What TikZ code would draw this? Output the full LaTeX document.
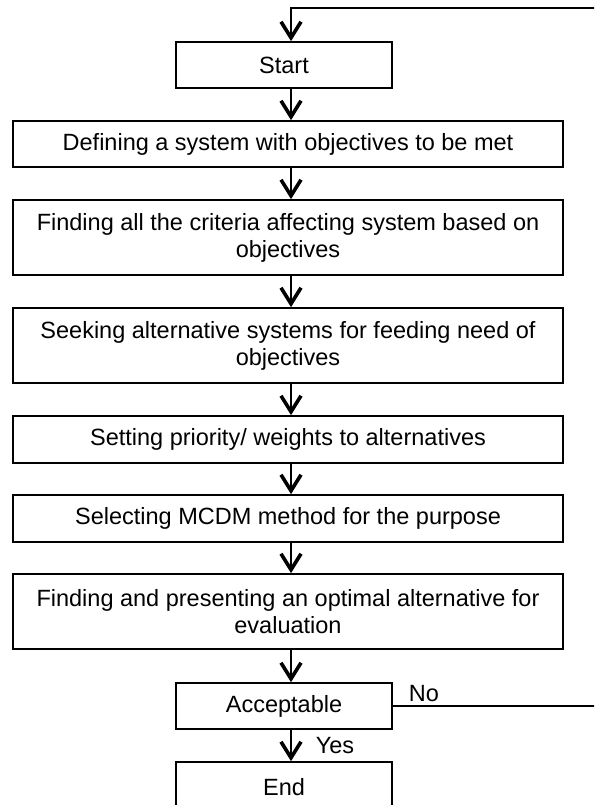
\documentclass[tikz,border=0pt]{standalone}
\usepackage{fontspec}
\setmainfont{Liberation Sans}
\usetikzlibrary{arrows.meta}
\begin{document}
\begin{tikzpicture}[x=1pt,y=-1pt,
  box/.style={draw,line width=1.7pt,minimum height=#1,inner sep=0pt,
    align=center,font=\fontsize{23.5}{27}\selectfont},
  box/.default=46pt,
  wide/.style={box=#1,minimum width=550pt},
  wide/.default=46pt,
  small/.style={box=46pt,minimum width=216pt},
  flow/.style={line width=1.7pt,-{Straight Barb[length=16pt,width=20pt,line width=3.6pt]}},
  link/.style={line width=1.7pt},
  lbl/.style={inner sep=0pt,font=\fontsize{23.5}{27}\selectfont}]
\useasboundingbox (0,0) rectangle (594,805);
\clip (0,0) rectangle (594,805);
\fill[white] (0,0) rectangle (594,805);

% process steps
\node[small]           (start) at (284,65)    {Start};
\node[wide]            (def)   at (288,144)   {Defining a system with objectives to be met};
\node[wide=75pt]       (crit)  at (288,237.5) {Finding all the criteria affecting system based on\\objectives};
\node[wide=75pt]       (seek)  at (288,345.5) {Seeking alternative systems for feeding need of\\objectives};
\node[wide=47pt]       (prio)  at (288,439.5) {Setting priority/ weights to alternatives};
\node[wide=47pt]       (mcdm)  at (288,518.5) {Selecting MCDM method for the purpose};
\node[wide=75pt]       (opt)   at (288,611.5) {Finding and presenting an optimal alternative for\\evaluation};
\node[small]           (acc)   at (284,706)   {Acceptable};
\node[small,minimum height=50pt] (fin) at (284,787) {End};

% column of the downward arrows and the return route
\coordinate (ax)  at (291,0);
\coordinate (top) at (596,8);

\draw[flow] (start.south -| ax) -- (def.north -| ax);
\draw[flow] (def.south -| ax)   -- (crit.north -| ax);
\draw[flow] (crit.south -| ax)  -- (seek.north -| ax);
\draw[flow] (seek.south -| ax)  -- (prio.north -| ax);
\draw[flow] (prio.south -| ax)  -- (mcdm.north -| ax);
\draw[flow] (mcdm.south -| ax)  -- (opt.north -| ax);
\draw[flow] (opt.south -| ax)   -- (acc.north -| ax);
\draw[flow] (acc.south -| ax)   -- (fin.north -| ax);

% loop back to the start when the result is not acceptable
\draw[link] (acc.east) -- (acc.east -| top) -- (top);
\draw[flow] (top) -- (ax |- top) -- (start.north -| ax);

\node[lbl] (no)  at (424,694) {No};
\node[lbl] (yes) at (335,746) {Yes};
\end{tikzpicture}
\end{document}
